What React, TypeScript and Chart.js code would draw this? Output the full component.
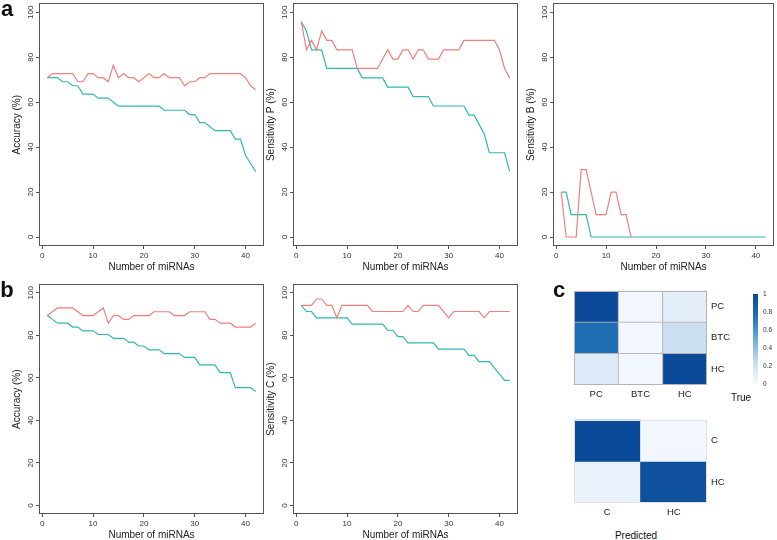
import React, { useEffect, useRef } from "react";
import { Chart, registerables } from "chart.js";
Chart.register(...registerables);

// ---------- data ----------
const miRNAs = [1, 2, 3, 4, 5, 6, 7, 8, 9, 10, 11, 12, 13, 14, 15, 16, 17, 18, 19, 20, 21, 22, 23, 24, 25, 26, 27, 28, 29, 30, 31, 32, 33, 34, 35, 36, 37, 38, 39, 40, 41, 42];
const xTicks = [0, 10, 20, 30, 40];
const yTicks = [0, 20, 40, 60, 80, 100];

const accA_red = [70.9, 72.7, 72.7, 72.7, 72.7, 72.7, 69.1, 69.1, 72.7, 72.7, 70.9, 70.9, 69.1, 76.4, 70.9, 72.7, 70.9, 70.9, 69.1, 70.9, 72.7, 70.9, 70.9, 72.7, 70.9, 70.9, 70.9, 67.3, 69.1, 69.1, 70.9, 70.9, 72.7, 72.7, 72.7, 72.7, 72.7, 72.7, 72.7, 70.9, 67.3, 65.5];
const accA_teal = [70.9, 70.9, 70.9, 69.1, 69.1, 67.3, 67.3, 63.6, 63.6, 63.6, 61.8, 61.8, 61.8, 60.0, 58.2, 58.2, 58.2, 58.2, 58.2, 58.2, 58.2, 58.2, 58.2, 56.4, 56.4, 56.4, 56.4, 56.4, 54.5, 54.5, 50.9, 50.9, 49.1, 47.3, 47.3, 47.3, 47.3, 43.6, 43.6, 36.4, 32.7, 29.1];

const sensP_red = [95.8, 83.3, 87.5, 83.3, 91.7, 87.5, 87.5, 83.3, 83.3, 83.3, 83.3, 75.0, 75.0, 75.0, 75.0, 75.0, 79.2, 83.3, 79.2, 79.2, 83.3, 83.3, 79.2, 83.3, 83.3, 79.2, 79.2, 79.2, 83.3, 83.3, 83.3, 83.3, 87.5, 87.5, 87.5, 87.5, 87.5, 87.5, 87.5, 83.3, 75.0, 70.8];
const sensP_teal = [95.8, 91.7, 83.3, 83.3, 83.3, 75.0, 75.0, 75.0, 75.0, 75.0, 75.0, 75.0, 70.8, 70.8, 70.8, 70.8, 70.8, 66.7, 66.7, 66.7, 66.7, 66.7, 62.5, 62.5, 62.5, 62.5, 58.3, 58.3, 58.3, 58.3, 58.3, 58.3, 58.3, 54.2, 54.2, 50.0, 45.8, 37.5, 37.5, 37.5, 37.5, 29.2];

const sensB_red = [20, 0, 0, 0, 30, 30, 20, 10, 10, 10, 20, 20, 10, 10, 0, null, null, null, null, null, null, null, null, null, null, null, null, null, null, null, null, null, null, null, null, null, null, null, null, null, null, null];
const sensB_teal = [20, 20, 10, 10, 10, 10, 0, 0, 0, 0, 0, 0, 0, 0, 0, 0, 0, 0, 0, 0, 0, 0, 0, 0, 0, 0, 0, 0, 0, 0, 0, 0, 0, 0, 0, 0, 0, 0, 0, 0, 0, 0];

const accB_red = [89.3, 91.1, 92.9, 92.9, 92.9, 92.9, 91.1, 89.3, 89.3, 89.3, 91.1, 92.9, 85.7, 89.3, 89.3, 87.5, 87.5, 89.3, 89.3, 89.3, 89.3, 91.1, 91.1, 91.1, 91.1, 89.3, 89.3, 89.3, 91.1, 91.1, 91.1, 91.1, 87.5, 87.5, 85.7, 85.7, 85.7, 83.9, 83.9, 83.9, 83.9, 85.7];
const accB_teal = [89.3, 87.5, 85.7, 85.7, 85.7, 83.9, 83.9, 82.1, 82.1, 82.1, 80.4, 80.4, 80.4, 78.6, 78.6, 78.6, 76.8, 76.8, 75.0, 75.0, 73.2, 73.2, 73.2, 71.4, 71.4, 71.4, 71.4, 69.6, 69.6, 69.6, 66.1, 66.1, 66.1, 66.1, 62.5, 62.5, 62.5, 55.4, 55.4, 55.4, 55.4, 53.6];

const sensC_red = [94.1, 94.1, 94.1, 97.1, 97.1, 94.1, 94.1, 88.2, 94.1, 94.1, 94.1, 94.1, 94.1, 94.1, 91.2, 91.2, 91.2, 91.2, 91.2, 91.2, 91.2, 94.1, 91.2, 91.2, 94.1, 94.1, 94.1, 94.1, 91.2, 88.2, 91.2, 91.2, 91.2, 91.2, 91.2, 91.2, 88.2, 91.2, 91.2, 91.2, 91.2, 91.2];
const sensC_teal = [94.1, 91.2, 91.2, 88.2, 88.2, 88.2, 88.2, 88.2, 88.2, 88.2, 85.3, 85.3, 85.3, 85.3, 85.3, 85.3, 85.3, 82.4, 82.4, 79.4, 79.4, 76.5, 76.5, 76.5, 76.5, 76.5, 76.5, 73.5, 73.5, 73.5, 73.5, 73.5, 73.5, 70.6, 70.6, 67.6, 67.6, 67.6, 64.7, 61.8, 58.8, 58.8];

// confusion matrices (rows = true, cols = predicted)
const cm3Labels = ["PC", "BTC", "HC"];
const cm3Values = [
  [0.97, 0.03, 0.1],
  [0.77, 0.03, 0.22],
  [0.13, 0.03, 0.97],
];
const cm2Labels = ["C", "HC"];
const cm2Values = [
  [0.97, 0.03],
  [0.07, 0.93],
];
const cbTicks = [0, 0.2, 0.4, 0.6, 0.8, 1];
const cbLabels = ["0", "0.2", "0.4", "0.6", "0.8", "1"];

// colour ramp (Blues)
const rampStops = [0, 0.25, 0.5, 0.75, 1];
const rampColors = [
  [247, 251, 255],
  [198, 219, 239],
  [107, 174, 214],
  [33, 113, 181],
  [8, 69, 148],
];

// ---------- style ----------
const FONT = "'Liberation Sans', Arial, Helvetica, sans-serif";
const RED = "#F27F7A";
const TEAL = "#30B8B4";
const FRAME = "#555555";

function blues(v: number): string {
  let i = 0;
  while (i < rampStops.length - 2 && v > rampStops[i + 1]) i++;
  const t = (v - rampStops[i]) / (rampStops[i + 1] - rampStops[i]);
  const a = rampColors[i];
  const b = rampColors[i + 1];
  const c = a.map((x, k) => Math.round(x + (b[k] - x) * Math.max(0, Math.min(1, t))));
  return `rgb(${c[0]},${c[1]},${c[2]})`;
}

const framePlugin = {
  id: "frame",
  afterDraw(chart: any, _args: any, opts: any) {
    const { ctx, chartArea: a } = chart;
    ctx.save();
    ctx.strokeStyle = opts.color || FRAME;
    ctx.lineWidth = opts.width || 1;
    ctx.strokeRect(Math.round(a.left) + 0.5, Math.round(a.top) + 0.5, Math.round(a.right - a.left) - 1, Math.round(a.bottom - a.top) - 1);
    ctx.restore();
  },
};

type Box = { l: number; r: number; t: number; b: number };

function LinePanel({ box, yTitle, red, teal }: { box: Box; yTitle: string; red: (number | null)[]; teal: (number | null)[] }) {
  const ref = useRef<HTMLCanvasElement>(null);
  const Y_W = 39, X_H = 30, PT = 2, PR = 4;
  const cw = box.r - box.l + Y_W + PR;
  const ch = box.b - box.t + PT + X_H;
  useEffect(() => {
    const grid = { display: true, drawOnChartArea: false, drawTicks: true, tickLength: 3, color: FRAME, lineWidth: 1 };
    const chart = new Chart(ref.current as HTMLCanvasElement, {
      type: "line",
      data: {
        datasets: [
          { data: miRNAs.map((x, i) => ({ x, y: red[i] })), borderColor: RED, borderWidth: 1.2, pointRadius: 0, tension: 0, spanGaps: false, fill: false },
          { data: miRNAs.map((x, i) => ({ x, y: teal[i] })), borderColor: TEAL, borderWidth: 1.2, pointRadius: 0, tension: 0, spanGaps: false, fill: false },
        ],
      } as any,
      options: {
        animation: false,
        responsive: false,
        devicePixelRatio: 1,
        events: [],
        layout: { padding: { left: 0, top: PT, right: PR, bottom: 0 } },
        plugins: { legend: { display: false }, tooltip: { enabled: false }, frame: { color: FRAME } } as any,
        scales: {
          x: {
            type: "linear",
            min: -0.64,
            max: 43.64,
            afterBuildTicks: (s: any) => { s.ticks = xTicks.map((v) => ({ value: v })); },
            afterFit: (s: any) => { s.height = X_H; },
            grid,
            border: { display: false },
            ticks: { font: { family: FONT, size: 8 }, color: "#333", padding: 2, maxRotation: 0, autoSkip: false },
            title: { display: true, text: "Number of miRNAs", font: { family: FONT, size: 10 }, color: "#222", padding: { top: 0, bottom: 3 } },
          },
          y: {
            type: "linear",
            min: -4,
            max: 104,
            afterBuildTicks: (s: any) => { s.ticks = yTicks.map((v) => ({ value: v })); },
            afterFit: (s: any) => { s.width = Y_W; },
            grid,
            border: { display: false },
            ticks: { font: { family: FONT, size: 8 }, color: "#333", padding: -1.5, minRotation: 90, maxRotation: 90, crossAlign: "center", autoSkip: false },
            title: { display: true, text: yTitle, font: { family: FONT, size: 10 }, color: "#222", padding: { top: 11, bottom: 0 } },
          },
        },
      } as any,
      plugins: [framePlugin as any],
    });
    return () => chart.destroy();
  }, []);
  return <canvas ref={ref} width={cw} height={ch} style={{ position: "absolute", left: box.l - Y_W, top: box.t - PT, width: cw, height: ch }} />;
}

function Heatmap({ box, labels, values, borderColor, borderWidth, frameColor }: { box: Box; labels: string[]; values: number[][]; borderColor: string; borderWidth: number; frameColor: string }) {
  const ref = useRef<HTMLCanvasElement>(null);
  const PL = 2, PT = 2, Y_W = 30, X_H = 20;
  const cw = box.r - box.l + PL + Y_W;
  const ch = box.b - box.t + PT + X_H;
  useEffect(() => {
    const nR = labels.length;
    const chart = new Chart(ref.current as HTMLCanvasElement, {
      type: "bar",
      data: {
        labels,
        datasets: labels.map((_, ri) => ({
          data: labels.map(() => [nR - ri - 1, nR - ri]),
          backgroundColor: values[ri].map((v) => blues(v)),
          borderColor,
          borderWidth,
          borderSkipped: false,
          barPercentage: 1,
          categoryPercentage: 1,
          grouped: false,
        })),
      } as any,
      options: {
        animation: false,
        responsive: false,
        devicePixelRatio: 1,
        events: [],
        layout: { padding: { left: PL, top: PT, right: 0, bottom: 0 } },
        plugins: { legend: { display: false }, tooltip: { enabled: false }, frame: { color: frameColor } } as any,
        scales: {
          x: {
            type: "category",
            offset: true,
            afterFit: (s: any) => { s.height = X_H; },
            grid: { display: false, drawTicks: false },
            border: { display: false },
            ticks: { font: { family: FONT, size: 9.5 }, color: "#222", padding: 4 },
          },
          y: {
            type: "linear",
            position: "right",
            min: 0,
            max: nR,
            afterBuildTicks: (s: any) => { s.ticks = labels.map((_, ri) => ({ value: nR - ri - 0.5 })); },
            afterFit: (s: any) => { s.width = Y_W; },
            grid: { display: false, drawTicks: false },
            border: { display: false },
            ticks: {
              font: { family: FONT, size: 9.5 },
              color: "#222",
              padding: 4,
              autoSkip: false,
              callback: (v: any) => labels[Math.round(nR - 0.5 - Number(v))],
            },
          },
        },
      } as any,
      plugins: [framePlugin as any],
    });
    return () => chart.destroy();
  }, []);
  return <canvas ref={ref} width={cw} height={ch} style={{ position: "absolute", left: box.l - PL, top: box.t - PT, width: cw, height: ch }} />;
}

function ColorBar({ box }: { box: Box }) {
  const ref = useRef<HTMLCanvasElement>(null);
  const PL = 1, PT = 6, PB = 6, Y_W = 22;
  const cw = box.r - box.l + PL + Y_W;
  const ch = box.b - box.t + PT + PB;
  useEffect(() => {
    const chart = new Chart(ref.current as HTMLCanvasElement, {
      type: "bar",
      data: {
        labels: [""],
        datasets: [
          {
            data: [[cbTicks[0], cbTicks[cbTicks.length - 1]]],
            backgroundColor: (c: any) => {
              const { chartArea, ctx } = c.chart;
              if (!chartArea) return "#fff";
              const g = ctx.createLinearGradient(0, chartArea.bottom, 0, chartArea.top);
              rampStops.forEach((s, i) => g.addColorStop(s, `rgb(${rampColors[i].join(",")})`));
              return g;
            },
            borderWidth: 0,
            barPercentage: 1,
            categoryPercentage: 1,
          },
        ],
      } as any,
      options: {
        animation: false,
        responsive: false,
        devicePixelRatio: 1,
        events: [],
        layout: { padding: { left: PL, top: PT, right: 0, bottom: PB } },
        plugins: { legend: { display: false }, tooltip: { enabled: false } },
        scales: {
          x: { type: "category", display: false, offset: true },
          y: {
            type: "linear",
            position: "right",
            min: 0,
            max: 1,
            afterBuildTicks: (s: any) => { s.ticks = cbTicks.map((v) => ({ value: v })); },
            afterFit: (s: any) => { s.width = Y_W; },
            grid: { display: false, drawTicks: false },
            border: { display: false },
            ticks: {
              font: { family: FONT, size: 6.5 },
              color: "#333",
              padding: 5,
              autoSkip: false,
              callback: (_v: any, i: number) => cbLabels[i],
            },
          },
        },
      } as any,
    });
    return () => chart.destroy();
  }, []);
  return <canvas ref={ref} width={cw} height={ch} style={{ position: "absolute", left: box.l - PL, top: box.t - PT, width: cw, height: ch }} />;
}

function Txt({ x, y, size, bold, children }: { x: number; y: number; size: number; bold?: boolean; children: React.ReactNode }) {
  return (
    <div style={{ position: "absolute", left: x, top: y, transform: "translate(-50%, -50%)", fontFamily: FONT, fontSize: size, lineHeight: 1, fontWeight: bold ? 700 : 400, color: "#111", whiteSpace: "nowrap" }}>
      {children}
    </div>
  );
}

export default function App() {
  return (
    <div style={{ position: "absolute", left: 0, top: 0, width: 777, height: 540, overflow: "hidden", background: "#fff" }}>
      <LinePanel box={{ l: 39, r: 264, t: 2, b: 246 }} yTitle="Accuracy (%)" red={accA_red} teal={accA_teal} />
      <LinePanel box={{ l: 293, r: 518, t: 2, b: 246 }} yTitle="Sensitivity P (%)" red={sensP_red} teal={sensP_teal} />
      <LinePanel box={{ l: 553, r: 774, t: 2, b: 246 }} yTitle="Sensitivity B (%)" red={sensB_red} teal={sensB_teal} />
      <LinePanel box={{ l: 39, r: 264, t: 283, b: 514 }} yTitle="Accuracy (%)" red={accB_red} teal={accB_teal} />
      <LinePanel box={{ l: 293, r: 518, t: 283, b: 514 }} yTitle="Sensitivity C (%)" red={sensC_red} teal={sensC_teal} />
      <Heatmap box={{ l: 574, r: 707, t: 283, b: 385 }} labels={cm3Labels} values={cm3Values} borderColor="#b4b4b4" borderWidth={0.8} frameColor="#b4b4b4" />
      <Heatmap box={{ l: 574, r: 707, t: 412, b: 503 }} labels={cm2Labels} values={cm2Values} borderColor="rgba(0,0,0,0)" borderWidth={0} frameColor="#e2e2e2" />
      <ColorBar box={{ l: 753, r: 758, t: 291, b: 387 }} />
      <Txt x={741} y={398} size={10}>True</Txt>
      <Txt x={636} y={536} size={10}>Predicted</Txt>
      <Txt x={7} y={9} size={22} bold>a</Txt>
      <Txt x={7} y={290} size={22} bold>b</Txt>
      <Txt x={559} y={290} size={22} bold>c</Txt>
    </div>
  );
}
